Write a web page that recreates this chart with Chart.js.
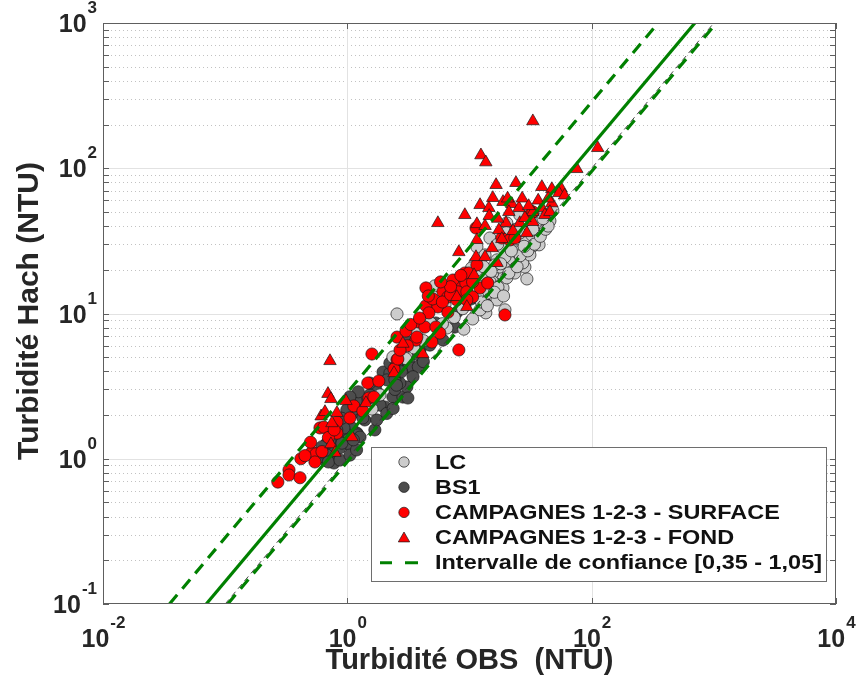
<!DOCTYPE html>
<html><head><meta charset="utf-8">
<script src="https://cdn.jsdelivr.net/npm/chart.js@4.4.1/dist/chart.umd.min.js"></script>
<style>html,body{margin:0;padding:0;background:#fff}#wrap{width:858px;height:677px;position:relative}</style>
</head><body><div id="wrap"><canvas id="c"></canvas></div>
<script>
// ---------------- DATA ----------------
const seriesLabels = ['LC', 'BS1', 'CAMPAGNES 1-2-3 - SURFACE', 'CAMPAGNES 1-2-3 - FOND', 'Intervalle de confiance [0,35 - 1,05]'];

const lcObs  = [2.55,29.5,19.5,10.6,13.6,8.99,23.5,28.4,18.8,15.5,16.8,21.4,23.5,28.4,35.6,32.4,45.5,39.9,26.8,12.9,11.5,10.1,13.9,15.5,17.7,20.2,23.5,2.36,3.38,3.71,6.53,16.8,13.9,18.8,20.2,43.8,36.3,25.8,14.7,11.5,11.1,13.4,27.3,22.7,24.4,32.4,25.8,20.6,18.4,19.5,16.1,14.7,17.1,10.4,11.7,5.21,20.2,2.85,12.2,8.34,6.3,48.1,31.2,37.1,1.85,1.59,
  12.5,14.0,16.0,19.0,21.0,24.5,26.0,30.0,34.0,38.0,42.0,33.0,28.0,22.0,18.0,15.0,13.0,9.5,8.8,7.5,6.0,4.8,4.2,3.5,3.0,44.0,40.0,20.0,17.0,24.0];
const lcHach = [9.93,17.3,10.6,9.17,10.1,7.8,19.0,20.9,18.4,19.0,23.4,24.5,27.4,32.1,33.1,28.7,43.4,38.8,37.6,18.4,19.9,16.5,16.0,16.5,20.9,22.3,23.4,5.02,7.95,7.33,7.95,12.4,13.8,15.0,17.6,47.7,42.0,47.7,33.1,28.7,22.3,25.3,22.3,23.4,26.5,34.7,35.8,32.1,28.7,24.5,21.6,16.5,15.2,20.6,13.0,15.5,42.0,5.43,10.6,12.4,11.5,51.2,25.3,29.7,2.75,2.2,
  12.0,11.3,14.0,13.2,19.0,21.0,25.0,27.0,30.0,34.0,38.0,38.0,29.0,27.0,22.0,19.5,21.0,14.5,10.8,9.4,8.5,8.6,6.5,5.8,4.9,40.0,45.0,36.0,30.0,38.0];

const bs1Obs  = [1.96,2.23,2.11,2.36,2.85,3.07,2.03,2.69,1.75,1.45,1.22,1.27,1.39,1.11,1.01,1.09,0.955,1.20,1.22,1.01,1.05,0.838,0.869,0.748,0.681,0.656,0.792,0.597,0.721,2.95,3.19,3.44,0.681,0.777,0.903,1.27,0.938,1.34,1.18,3.13,13.4,7.59,5.31,7.87,3.13,3.44,6.06,3.93,4.74,2.45,1.70,1.53,2.45,1.85,3.8,5.72,9.16,10.3,
  2.23,2.52,2.77,3.81,4.19,3.45,2.53,1.53,1.23,1.05,0.99,0.90,0.82,0.72,0.62,0.70,0.87,1.05,1.19,1.12,1.68,1.74,2.10,2.37];
const bs1Hach = [3.95,3.89,3.49,2.66,2.66,3.12,2.27,3.32,2.88,2.42,2.54,2.07,1.85,2.17,1.76,1.63,1.53,1.50,1.46,1.35,1.24,1.35,1.19,1.10,1.28,0.98,0.98,1.03,1.50,4.21,4.6,4.21,1.06,0.935,1.28,1.41,1.63,1.91,2.50,2.62,11.8,8.07,8.6,10.2,6.36,6.06,6.56,5.61,6.06,3.49,3.2,2.75,3.0,2.34,5.2,7.6,11.3,12.6,
  4.55,4.42,3.97,4.30,4.66,3.67,3.21,3.32,2.89,2.67,2.17,1.90,1.58,1.35,1.21,0.95,0.98,1.06,1.15,1.35,1.58,1.85,2.05,2.22];

const surfObs  = [0.27,0.333,0.333,0.41,0.417,0.513,0.554,0.543,0.597,0.643,0.822,0.822,1.05,1.13,1.34,1.47,1.59,1.50,1.65,1.81,2.55,2.55,3.02,2.41,3.64,4.40,6.06,7.45,8.34,9.33,6.65,8.03,9.51,12.2,10.6,4.40,5.51,6.65,4.65,3.85,3.71,4.31,5.31,5.72,4.92,2.59,8.18,19.5,9.16,9.87,11.5,7.31,10.6,7.87,9.51,18.4,21.4,23.5,31.2,33.0,11.3,14.1,
  3.3,3.9,5.0,6.0,7.0,7.0,5.8,8.5,4.6,3.1,2.7,0.7,0.5,0.45,0.62,0.78];
const surfHach = [0.691,0.837,0.773,0.74,1.0,1.11,1.08,0.95,1.63,1.65,1.50,1.79,1.91,2.31,2.13,3.32,5.26,2.62,2.66,3.43,6.88,4.8,7.57,4.15,6.56,15.0,14.1,16.8,15.8,16.2,13.0,14.1,14.1,15.0,13.0,11.3,11.1,10.2,10.1,8.74,6.88,8.07,8.07,7.33,6.36,4.86,5.61,9.77,19.0,19.0,21.6,17.0,16.5,12.4,12.4,33.1,32.1,33.1,47.7,50.0,38.8,16.2,
  8.4,9.3,12.6,12.0,13.5,15.3,16.5,18.3,13.2,6.0,5.6,1.4,1.3,1.05,1.12,1.58];

const fondObs  = [33.0,112,12.4,13.6,75.6,16.5,24.0,39.1,47.2,56.0,53.9,15.5,12.2,14.4,18.8,22.2,25.4,47.2,9.16,5.51,33.0,39.1,41.4,11.5,13.4,19.9,25.8,33.0,17.4,22.7,29.5,11.5,15.3,18.4,8.18,11.3,13.4,16.8,10.9,9.51,7.87,28.4,45.5,2.85,4.15,2.41,1.42,0.721,0.694,0.734,0.974,0.61,0.656,0.822,0.748,1.09,0.734,0.792,
  14.5,20.5,27.0,30.5,36.5,44.0,60.0,17.0,21.0];
const fondHach = [211,138,123,110,98.9,76.8,79.3,74.4,72.0,73,67.6,62.5,55.9,53.3,58.7,56.8,53.3,57.5,47.7,42.0,50.0,53.3,47.7,41.3,40.1,42.0,42.0,42.7,37.6,37.0,35.8,32.1,28.2,32.6,26.5,24.5,24.5,22.3,18.4,11.1,13.0,45.5,50.0,6.2,5.26,3.89,2.42,4.71,2.8,2.58,2.50,1.96,2.10,2.07,1.76,1.41,1.26,1.10,
  47,62,62,55,60,62,65,45,50];

// reference lines (visible end points)
const fitObs = [0.07, 700],      fitHach = [0.1, 1000];
const confHiObs = [0.035, 350],  confHiHach = [0.1, 1000];
const confLoObs = [0.105, 1050], confLoHach = [0.1, 1000];
const unityObs = [0.1, 1000],    unityHach = [0.1, 1000];

// axes
const xTickValues = [0.01, 1, 100, 10000];
const xTickExps   = ['-2', '0', '2', '4'];
const yTickValues = [0.1, 1, 10, 100, 1000];
const yTickExps   = ['-1', '0', '1', '2', '3'];
const xTitle = 'Turbidité OBS  (NTU)';
const yTitle = 'Turbidité Hach (NTU)';

// ---------------- CHART ----------------
const FONT = '"Liberation Sans", Arial, Helvetica, sans-serif';
const TXT = '#262626';
const GREEN = '#008000';
const zip = (xs, ys) => xs.map((v, i) => ({x: v, y: ys[i]}));

function pts(label, xs, ys, fill, style, radius, order, legend) {
  return {label, data: zip(xs, ys), pointStyle: style, pointRadius: radius,
    pointBackgroundColor: fill, pointBorderColor: '#1a1a1a', pointBorderWidth: 0.7,
    backgroundColor: fill, borderColor: '#1a1a1a', showLine: false, order, legendRow: legend};
}
function line(label, xs, ys, color, width, dash, order, legend) {
  return {label, data: zip(xs, ys), showLine: true, borderColor: color, borderWidth: width,
    borderDash: dash, pointRadius: 0, fill: false, clip: 0, order, legendRow: legend};
}

const datasets = [
  line('fit', fitObs, fitHach, GREEN, 3.2, [], 0, -1),
  line(seriesLabels[4], confHiObs, confHiHach, GREEN, 3.2, [12, 8], 0, 4),
  line('conf-low', confLoObs, confLoHach, GREEN, 3.2, [12, 8], 0, -1),
  line('1:1', unityObs, unityHach, '#333', 0.9, [6, 4], 1, -1),
  pts(seriesLabels[3], fondObs, fondHach, '#ff0000', 'triangle', 7.2, 2, 3),
  pts(seriesLabels[2], surfObs, surfHach, '#ff0000', 'circle', 6.1, 3, 2),
  pts(seriesLabels[0], lcObs, lcHach, '#cccccc', 'circle', 6.1, 4, 0),
  pts(seriesLabels[1], bs1Obs, bs1Hach, '#4d4d4d', 'circle', 6.1, 5, 1),
];

function drawMarker(ctx, style, x, y, r, fill) {
  ctx.save();
  ctx.fillStyle = fill; ctx.strokeStyle = '#1a1a1a'; ctx.lineWidth = 0.7;
  ctx.beginPath();
  if (style === 'triangle') {
    ctx.moveTo(x, y - r); ctx.lineTo(x + 0.866 * r, y + 0.5 * r); ctx.lineTo(x - 0.866 * r, y + 0.5 * r); ctx.closePath();
  } else { ctx.arc(x, y, r, 0, Math.PI * 2); }
  ctx.fill(); ctx.stroke(); ctx.restore();
}

function powLabel(ctx, exp, xRight, xCenter, yBase, align) {
  ctx.font = 'bold 25px ' + FONT;
  const wB = ctx.measureText('10').width;
  ctx.font = 'bold 17px ' + FONT;
  const wE = ctx.measureText(exp).width;
  let x0 = align === 'right' ? xRight - wB - wE : xCenter - (wB + wE) / 2;
  ctx.textAlign = 'left'; ctx.textBaseline = 'alphabetic';
  ctx.font = 'bold 25px ' + FONT; ctx.fillText('10', x0, yBase);
  ctx.font = 'bold 17px ' + FONT; ctx.fillText(exp, x0 + wB + 1, yBase - 19);
}

const frame = {
  id: 'frame',
  beforeDatasetsDraw(chart) {
    const {ctx, chartArea: a, scales: {x, y}} = chart;
    ctx.save();
    ctx.beginPath(); ctx.rect(a.left, a.top, a.right - a.left, a.bottom - a.top); ctx.clip();
    ctx.lineWidth = 1;
    ctx.strokeStyle = '#c2c2c2'; ctx.setLineDash([1, 3]);
    yTickValues.slice(0, -1).forEach(d => {
      for (let m = 2; m <= 9; m++) {
        const py = Math.round(y.getPixelForValue(d * m)) + 0.5;
        ctx.beginPath(); ctx.moveTo(a.left, py); ctx.lineTo(a.right, py); ctx.stroke();
      }
    });
    ctx.setLineDash([]); ctx.strokeStyle = '#e2e2e2';
    yTickValues.forEach(v => {
      const py = Math.round(y.getPixelForValue(v)) + 0.5;
      ctx.beginPath(); ctx.moveTo(a.left, py); ctx.lineTo(a.right, py); ctx.stroke();
    });
    xTickValues.forEach(v => {
      const px = Math.round(x.getPixelForValue(v)) + 0.5;
      ctx.beginPath(); ctx.moveTo(px, a.top); ctx.lineTo(px, a.bottom); ctx.stroke();
    });
    ctx.restore();
  },
  afterDatasetsDraw(chart) {
    const {ctx, chartArea: a, scales: {x, y}} = chart;
    ctx.save();
    // box
    ctx.strokeStyle = '#5e5e5e'; ctx.lineWidth = 1;
    ctx.strokeRect(a.left + 0.5, a.top + 0.5, a.right - a.left - 1, a.bottom - a.top - 1);
    // inward ticks
    const T = 6;
    ctx.beginPath();
    yTickValues.forEach((d, i) => {
      const list = i < yTickValues.length - 1 ? [1,2,3,4,5,6,7,8,9].map(m => d * m) : [d];
      list.forEach(v => {
        const py = Math.round(y.getPixelForValue(v)) + 0.5;
        ctx.moveTo(a.left, py); ctx.lineTo(a.left + T, py);
        ctx.moveTo(a.right, py); ctx.lineTo(a.right - T, py);
      });
    });
    xTickValues.forEach(v => {
      const px = Math.round(x.getPixelForValue(v)) + 0.5;
      ctx.moveTo(px, a.bottom); ctx.lineTo(px, a.bottom - T);
      ctx.moveTo(px, a.top); ctx.lineTo(px, a.top + T);
    });
    ctx.stroke();
    // tick labels
    ctx.fillStyle = TXT;
    yTickValues.forEach((v, i) => powLabel(ctx, yTickExps[i], a.left - 7, 0, y.getPixelForValue(v) + 9, 'right'));
    xTickValues.forEach((v, i) => powLabel(ctx, xTickExps[i], 0, x.getPixelForValue(v), a.bottom + 43, 'center'));
    // axis titles
    ctx.font = 'bold 29px ' + FONT; ctx.textAlign = 'center'; ctx.textBaseline = 'alphabetic';
    ctx.fillText(xTitle, (a.left + a.right) / 2, 669);
    ctx.font = 'bold 30px ' + FONT;
    ctx.save(); ctx.translate(38, 311); ctx.rotate(-Math.PI / 2); ctx.fillText(yTitle, 0, 0); ctx.restore();
    // legend
    const L = {x: 371, y: 447, w: 455, h: 134};
    ctx.fillStyle = '#fff'; ctx.fillRect(L.x, L.y, L.w, L.h);
    ctx.strokeStyle = '#6e6e6e'; ctx.lineWidth = 1; ctx.strokeRect(L.x + 0.5, L.y + 0.5, L.w, L.h);
    const rows = chart.data.datasets.filter(d => d.legendRow >= 0).sort((p, q) => p.legendRow - q.legendRow);
    ctx.font = 'bold 20px ' + FONT;
    const longest = ctx.measureText(seriesLabels[4]).width;
    const sx = 387 / longest;
    rows.forEach(d => {
      const cy = 462 + d.legendRow * 25.2;
      if (d.showLine) {
        ctx.save(); ctx.strokeStyle = d.borderColor; ctx.lineWidth = 3;
        ctx.beginPath(); ctx.moveTo(380, cy); ctx.lineTo(392, cy); ctx.moveTo(405, cy); ctx.lineTo(418, cy); ctx.stroke(); ctx.restore();
      } else {
        drawMarker(ctx, d.pointStyle, 404, d.pointStyle === 'triangle' ? cy + 1 : cy, d.pointStyle === 'triangle' ? 6.6 : 5.2, d.pointBackgroundColor);
      }
      ctx.save(); ctx.fillStyle = '#111'; ctx.textAlign = 'left'; ctx.textBaseline = 'middle';
      ctx.translate(435, cy + 1); ctx.scale(sx, 1); ctx.fillText(d.label, 0, 0); ctx.restore();
    });
    ctx.restore();
  }
};

new Chart(document.getElementById('c'), {
  type: 'scatter',
  data: {datasets},
  options: {
    responsive: true, maintainAspectRatio: false, animation: false, events: [],
    layout: {padding: {left: 103, right: 22, top: 23, bottom: 73}},
    scales: {
      x: {type: 'logarithmic', min: 0.01, max: 10000, display: false},
      y: {type: 'logarithmic', min: 0.1, max: 1000, display: false}
    },
    plugins: {legend: {display: false}, tooltip: {enabled: false}, title: {display: false}}
  },
  plugins: [frame]
});
</script>
</body></html>
